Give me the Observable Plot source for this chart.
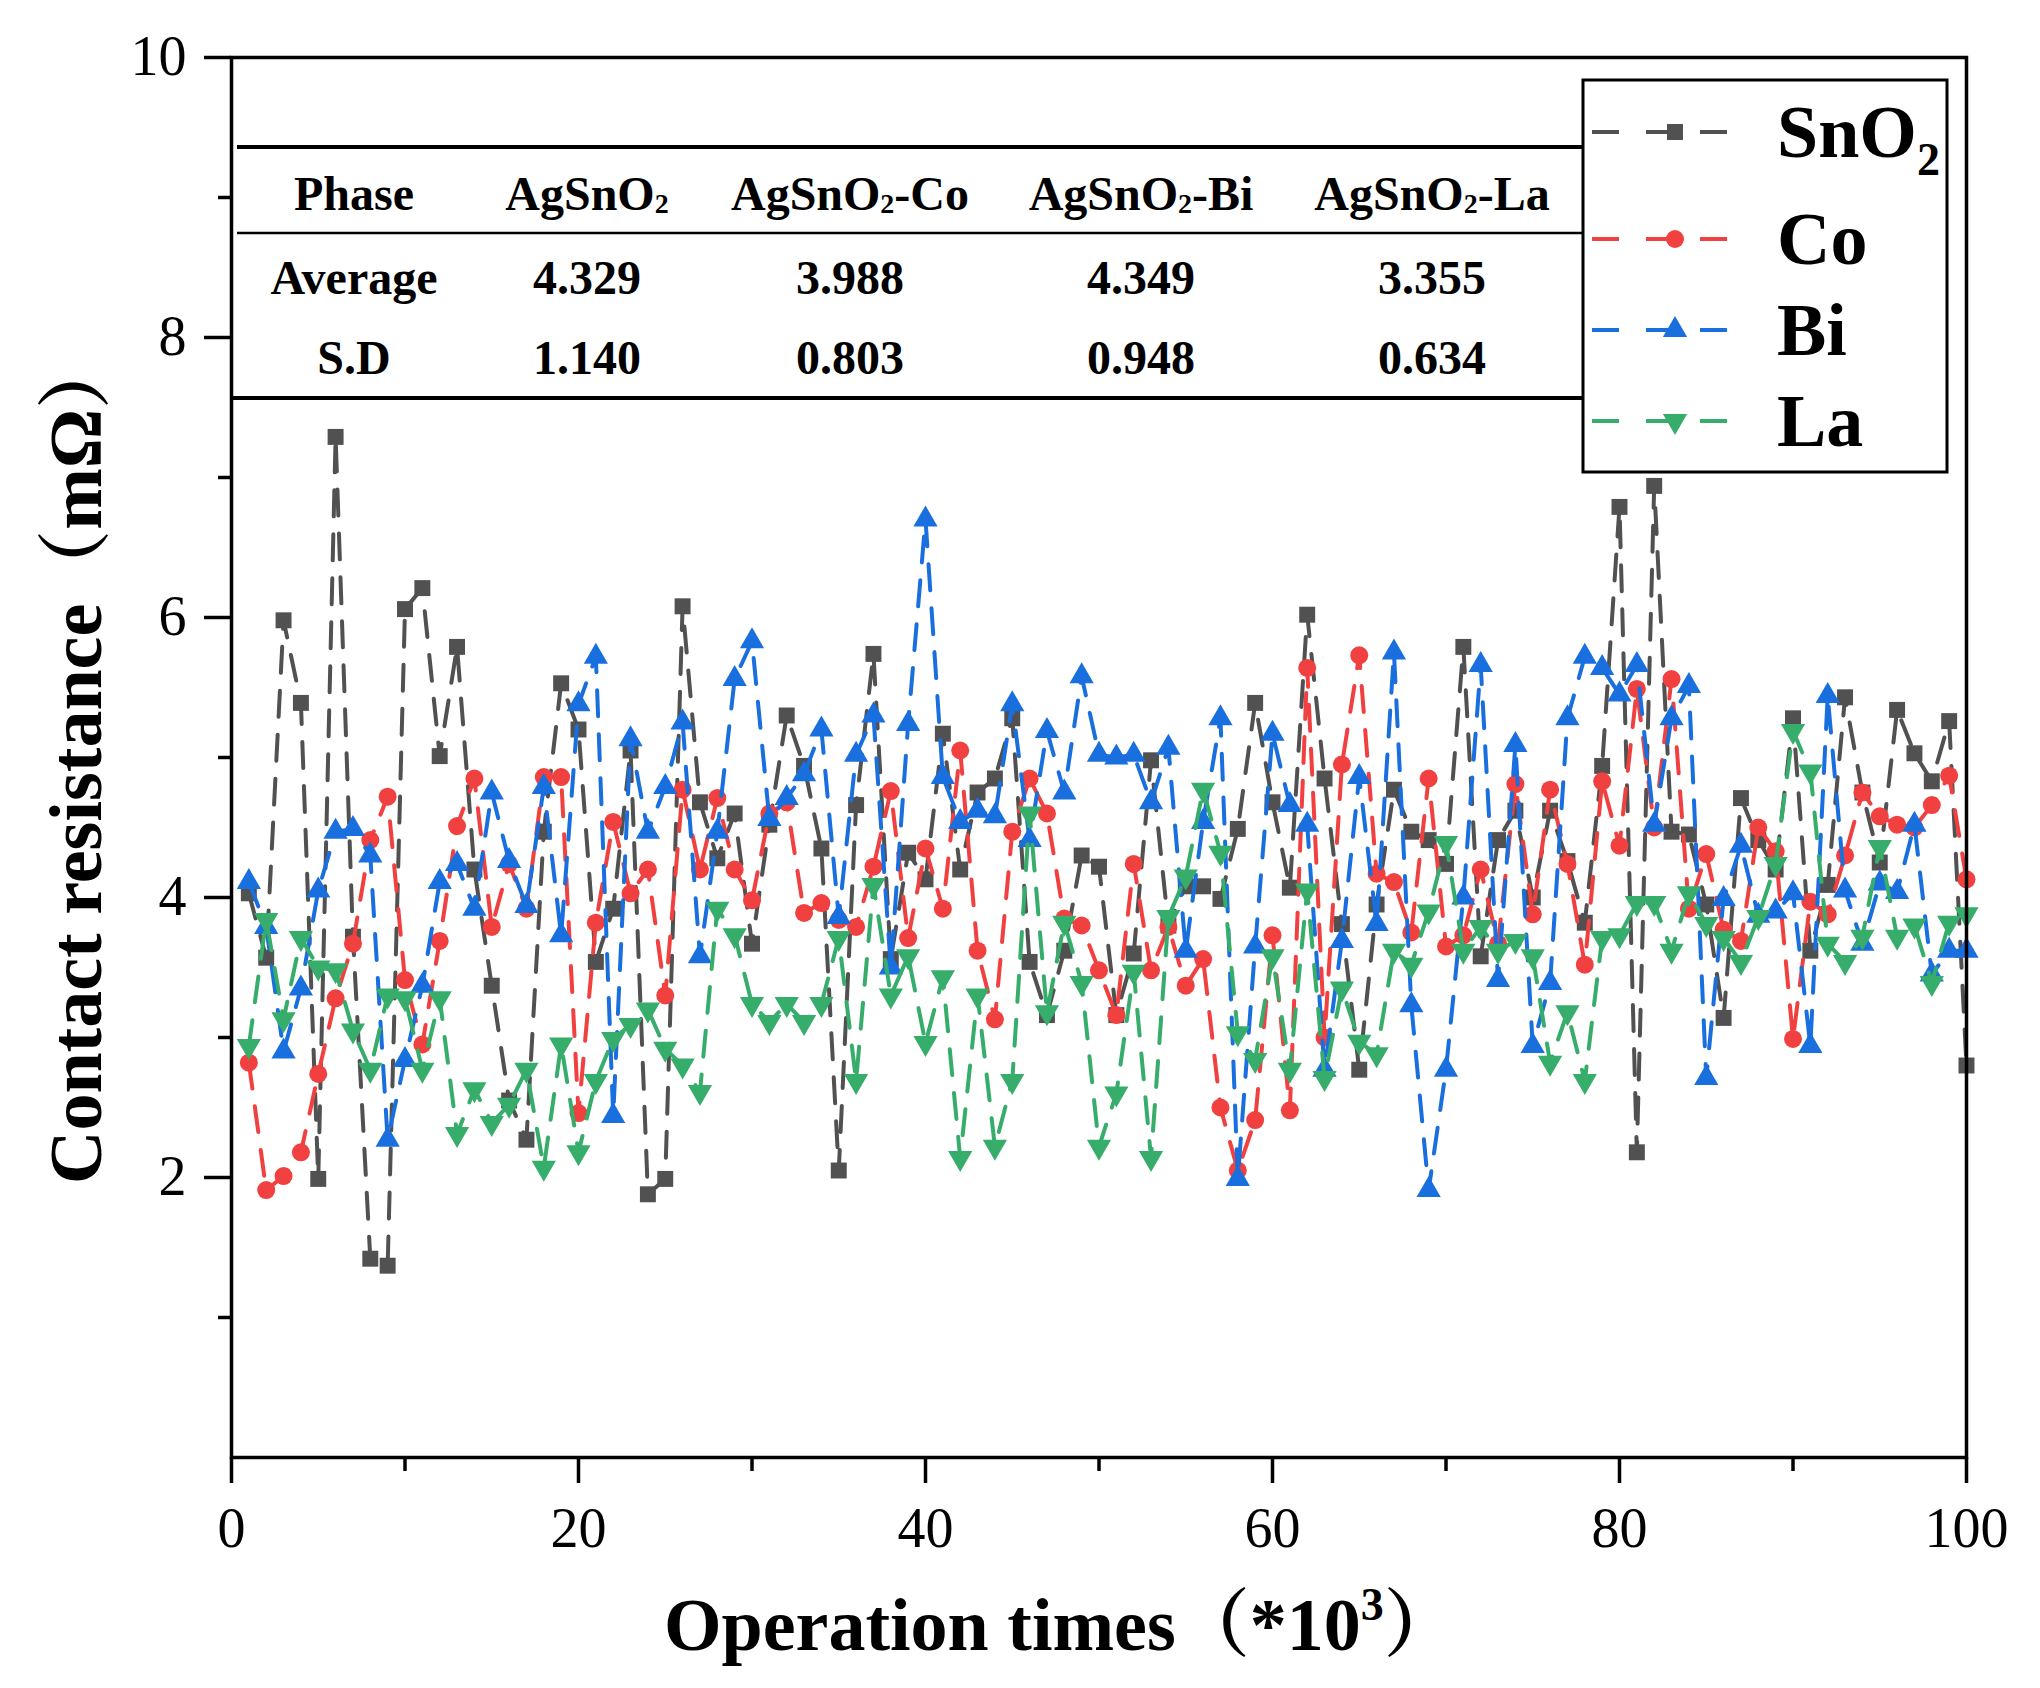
<!DOCTYPE html>
<html><head><meta charset="utf-8">
<script src="https://cdn.jsdelivr.net/npm/d3@7"></script>
<script src="https://cdn.jsdelivr.net/npm/@observablehq/plot@0.6"></script>
<style>
html,body{margin:0;padding:0;background:#fff;}
#chart{width:2040px;height:1688px;}
</style></head><body><div id="chart"></div>
<script>
// ---- data ----
const ops = d3.range(1, 101); // operation index (*10^3)
const sno2 = [4.03,3.57,5.98,5.39,1.99,7.29,3.72,1.42,1.37,6.06,
6.21,5.01,5.79,4.2,3.37,2.55,2.27,4.47,5.53,5.2,
3.54,3.92,5.05,1.88,1.99,6.08,4.68,4.28,4.6,3.67,
4.52,5.3,4.94,4.35,2.05,4.66,5.74,3.56,4.32,4.13,
5.17,4.2,4.75,4.85,5.28,3.54,3.16,3.62,4.3,4.22,
3.16,3.6,4.98,3.8,4.08,4.08,3.99,4.49,5.39,4.68,
4.07,6.02,4.85,3.81,2.77,3.95,4.77,4.47,4.41,4.24,
5.79,3.58,4.41,4.62,4.0,4.62,4.26,3.82,4.94,6.79,
2.18,6.94,4.47,4.45,3.95,3.14,4.71,4.41,4.2,5.28,
3.62,4.09,5.43,4.75,4.25,5.34,5.03,4.83,5.26,2.8];
const co = [2.82,1.91,2.01,2.18,2.74,3.28,3.67,4.41,4.72,3.41,
2.95,3.69,4.51,4.85,3.79,4.24,3.92,4.86,4.86,2.46,
3.82,4.54,4.03,4.2,3.3,4.77,4.2,4.71,4.2,3.98,
4.6,4.68,3.89,3.96,3.84,3.79,4.22,4.76,3.71,4.35,
3.92,5.05,3.62,3.13,4.47,4.85,4.6,3.85,3.8,3.48,
3.16,4.24,3.48,3.79,3.37,3.56,2.5,2.05,2.41,3.73,
2.48,5.64,3.0,4.95,5.73,4.17,4.11,3.75,4.85,3.65,
3.73,4.2,3.67,4.81,3.88,4.77,4.24,3.52,4.83,4.37,
5.49,4.5,5.56,3.92,4.31,3.77,3.69,4.5,4.33,2.99,
3.97,3.88,4.3,4.75,4.58,4.52,4.5,4.66,4.87,4.13];
const bi = [4.11,3.79,2.9,3.35,4.05,4.47,4.49,4.3,2.27,2.84,
3.37,4.11,4.24,3.92,4.75,4.26,3.94,4.79,3.73,5.38,
5.72,2.44,5.13,4.47,4.79,5.25,3.58,4.47,5.56,5.83,
4.56,4.71,4.88,5.2,3.86,5.02,5.3,3.5,5.24,6.7,
4.86,4.54,4.62,4.58,5.38,4.41,5.19,4.75,5.58,5.02,
5.0,5.02,4.68,5.07,3.62,4.54,5.28,1.99,3.65,5.17,
4.66,4.52,2.77,3.69,4.86,3.81,5.75,3.23,1.91,2.77,
4.0,5.66,3.41,5.09,2.94,3.39,5.28,5.72,5.64,5.45,
5.66,4.52,5.28,5.51,2.71,3.99,4.37,3.87,3.9,4.03,
2.94,5.44,4.05,3.67,4.1,4.04,4.52,3.45,3.62,3.62];
const la = [2.94,3.84,3.13,3.71,3.5,3.48,3.05,2.77,3.3,3.28,
2.77,3.28,2.31,2.63,2.39,2.52,2.77,2.07,2.95,2.18,
2.69,2.99,3.09,3.2,2.92,2.8,2.61,3.92,3.73,3.24,
3.11,3.24,3.11,3.24,3.71,2.69,4.09,3.3,3.58,2.96,
3.43,2.14,3.3,2.22,2.69,4.6,3.18,3.82,3.39,2.22,
2.6,3.47,2.14,3.86,4.15,4.77,4.32,3.03,2.84,3.58,
2.77,4.05,2.71,3.35,2.97,2.88,3.62,3.52,3.9,4.39,
3.62,3.79,3.62,3.69,3.58,2.82,3.18,2.69,3.71,3.73,
3.96,3.96,3.62,4.03,3.81,3.71,3.54,3.86,4.24,5.19,
4.9,3.67,3.54,3.72,4.36,3.72,3.8,3.39,3.82,3.88];

const xMajor = [0, 20, 40, 60, 80, 100];
const xMinor = [10, 30, 50, 70, 90];
const yMajor = [2, 4, 6, 8, 10];
const yMinor = [1, 3, 5, 7, 9];

const legendBase = ["SnO", "Co", "Bi", "La"];
const legendSub = ["2", "", "", ""];
const tableHeader = ["Phase", "AgSnO2", "AgSnO2-Co", "AgSnO2-Bi", "AgSnO2-La"];
const averages = ["4.329", "3.988", "4.349", "3.355"];
const sds = ["1.140", "0.803", "0.948", "0.634"];

// ---- styles ----
const FONT = "'Liberation Serif','Times New Roman','Noto Serif CJK SC','Noto Sans CJK SC',serif";
const colors = ["#515151", "#F14040", "#1A6FDF", "#37AD6B"];
const triangleDown = {
  draw(context, size) {
    const y = -Math.sqrt(size / (Math.sqrt(3) * 3));
    context.moveTo(0, -y * 2);
    context.lineTo(-Math.sqrt(3) * y, y);
    context.lineTo(Math.sqrt(3) * y, y);
    context.closePath();
  }
};
const symbols = [d3.symbolSquare, d3.symbolCircle, d3.symbolTriangle, triangleDown];
const plotSymbols = ["square", "circle", "triangle", triangleDown];
const allSeries = [sno2, co, bi, la];
const R = 9;
const DASH = "26,18";

const seriesMarks = allSeries.flatMap((s, k) => [
  Plot.line(s, {x: (d, i) => ops[i], y: d => d, stroke: colors[k], strokeWidth: 4, strokeDasharray: DASH}),
  Plot.dot(s, {x: (d, i) => ops[i], y: d => d, symbol: plotSymbols[k], r: R, fill: colors[k], stroke: "none"})
]);

const chart = Plot.plot({
  width: 2040, height: 1688,
  marginTop: 57, marginRight: 74, marginBottom: 231, marginLeft: 231,
  style: {fontFamily: FONT, fontSize: "56px", color: "black", background: "white"},
  x: {domain: [0, 100]},
  y: {domain: [0, 10]},
  marks: [
    ...seriesMarks,
    Plot.axisX({ticks: xMajor, tickSize: 26, tickPadding: 24, strokeWidth: 3.5, label: null}),
    Plot.axisX({ticks: xMinor, tickSize: 14, strokeWidth: 3.5, fill: "none", label: null}),
    Plot.axisY({ticks: yMajor, tickSize: 27, tickPadding: 18, strokeWidth: 3.5, label: null}),
    Plot.axisY({ticks: yMinor, tickSize: 13, strokeWidth: 3.5, fill: "none", label: null}),
    Plot.frame({stroke: "black", strokeWidth: 3.5})
  ]
});
document.getElementById("chart").appendChild(chart);

const svg = d3.select(chart);

// ---- stats table ----
const tbl = svg.append("g").attr("font-family", FONT).attr("font-weight", "bold").attr("font-size", 48).attr("fill", "black");
tbl.append("line").attr("x1", 237).attr("x2", 1583).attr("y1", 147).attr("y2", 147).attr("stroke", "black").attr("stroke-width", 4);
tbl.append("line").attr("x1", 237).attr("x2", 1583).attr("y1", 233).attr("y2", 233).attr("stroke", "black").attr("stroke-width", 2.5);
tbl.append("line").attr("x1", 231).attr("x2", 1583).attr("y1", 398).attr("y2", 398).attr("stroke", "black").attr("stroke-width", 4);
const colX = [354, 587, 850, 1141, 1432];
tableHeader.forEach((h, i) => {
  const t = tbl.append("text").attr("x", colX[i]).attr("y", 210).attr("text-anchor", "middle");
  const m = h.match(/^(.*O)2(.*)$/);
  if (m) {
    t.append("tspan").text(m[1]);
    t.append("tspan").attr("font-size", 28).attr("dy", 3).text("2");
    t.append("tspan").attr("dy", -3).text(m[2]);
  } else t.text(h);
});
const rowLabels = ["Average", "S.D"];
[averages, sds].forEach((row, r) => {
  const yb = r === 0 ? 294 : 374;
  tbl.append("text").attr("x", colX[0]).attr("y", yb).attr("text-anchor", "middle").text(rowLabels[r]);
  row.forEach((v, i) => tbl.append("text").attr("x", colX[i + 1]).attr("y", yb).attr("text-anchor", "middle").text(v));
});

// ---- legend ----
const lg = svg.append("g").attr("font-family", FONT);
lg.append("rect").attr("x", 1583).attr("y", 80).attr("width", 364).attr("height", 392)
  .attr("fill", "white").attr("stroke", "black").attr("stroke-width", 3);
const rowY = [132, 239, 330, 421];
legendBase.forEach((name, k) => {
  lg.append("line").attr("x1", 1592).attr("x2", 1727).attr("y1", rowY[k]).attr("y2", rowY[k])
    .attr("stroke", colors[k]).attr("stroke-width", 4).attr("stroke-dasharray", "27,27");
  lg.append("path").attr("transform", `translate(1675,${rowY[k]})`)
    .attr("d", d3.symbol(symbols[k], Math.PI * R * R)()).attr("fill", colors[k]);
  const t = lg.append("text").attr("x", 1777).attr("y", rowY[k] + 25).attr("text-anchor", "start")
    .attr("font-size", 74).attr("font-weight", "bold");
  t.append("tspan").text(name);
  if (legendSub[k]) t.append("tspan").attr("font-size", 46).attr("dy", 18).text(legendSub[k]);
});

// ---- axis titles ----
const xt = svg.append("text").attr("x", 664).attr("y", 1650).attr("text-anchor", "start").attr("font-family", FONT)
  .attr("font-size", 74).attr("font-weight", "bold");
xt.append("tspan").text("Operation times（*10");
xt.append("tspan").attr("font-size", 46).attr("dy", -30).text("3");
xt.append("tspan").attr("dy", 30).text("）");

svg.append("text").attr("transform", "translate(101,1184) rotate(-90)").attr("text-anchor", "start").attr("font-family", FONT)
  .attr("font-size", 74).attr("font-weight", "bold").text("Contact resistance（mΩ）");
</script>
</body></html>
